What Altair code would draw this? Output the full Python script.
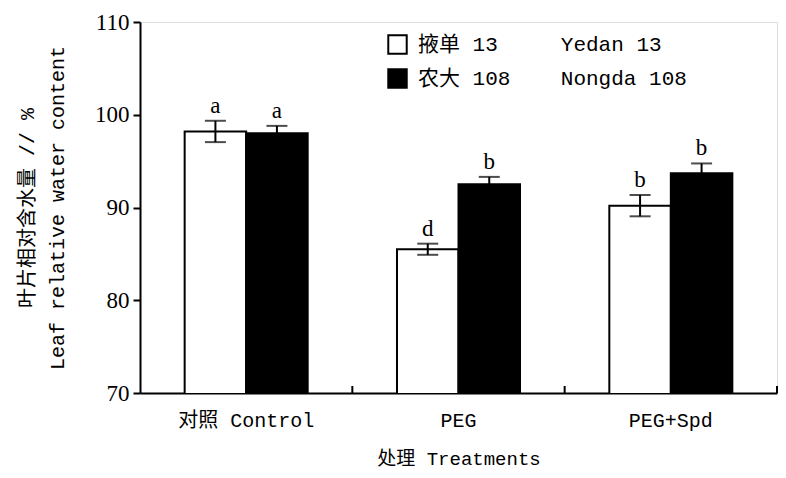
import altair as alt
import pandas as pd

treatments = ["对照 Control", "PEG", "PEG+Spd"]
varieties = ["掖单 13\u00a0\u00a0\u00a0\u00a0\u00a0Yedan 13", "农大 108\u00a0\u00a0\u00a0\u00a0Nongda 108"]
yedan_mean = [98.2, 85.5, 90.2]
yedan_err = [1.15, 0.6, 1.15]
yedan_letters = ["a", "d", "b"]
nongda_mean = [98.0, 92.5, 93.7]
nongda_err = [0.8, 0.8, 1.05]
nongda_letters = ["a", "b", "b"]
inner_ticks = ["PEG", "PEG+Spd"]
end_ticks = ["PEG+Spd"]

rows = []
for t, m, e, l in zip(treatments, yedan_mean, yedan_err, yedan_letters):
    rows.append({"treat": t, "var": varieties[0], "mean": m, "lo": m - e, "hi": m + e, "letter": l})
for t, m, e, l in zip(treatments, nongda_mean, nongda_err, nongda_letters):
    rows.append({"treat": t, "var": varieties[1], "mean": m, "lo": m - e, "hi": m + e, "letter": l})
df = pd.DataFrame(rows)

SERIF = "Liberation Serif, Noto Sans CJK SC"
MONO = "Liberation Mono, Noto Sans CJK SC"
W, H = 637, 371

x_enc = alt.X("treat:N", sort=treatments,
              scale=alt.Scale(paddingInner=0, paddingOuter=0),
              axis=alt.Axis(title="处理 Treatments", labelAngle=0, ticks=False,
                            labelFont=MONO, titleFont=MONO,
                            labelFontSize=20, titleFontSize=19, labelPadding=17,
                            titlePadding=19, titleFontWeight="normal",
                            domainColor="black", domainWidth=2,
                            labelColor="black", titleColor="black"))
xo_enc = alt.XOffset("var:N", sort=varieties, scale=alt.Scale(paddingOuter=0.726, paddingInner=0))
y_scale = alt.Scale(domain=[70, 110], nice=False, zero=False)
y_enc = alt.Y("mean:Q", scale=y_scale,
              axis=alt.Axis(title=["叶片相对含水量 // %", "Leaf relative water content"],
                            values=[70, 80, 90, 100, 110], grid=False, tickSize=7,
                            tickColor="black", tickWidth=2, domainColor="black",
                            domainWidth=2, labelFontSize=23, labelPadding=4,
                            labelFont=SERIF, titleFont=MONO,
                            titleFontSize=20, titleFontWeight="normal", titlePadding=27,
                            labelColor="black", titleColor="black", titleLineHeight=30))

base = alt.Chart(df)

bars = base.mark_bar(stroke="black", strokeWidth=2, clip=True).encode(
    x=x_enc, xOffset=xo_enc, y=y_enc,
    fill=alt.Fill("var:N", sort=varieties,
                  scale=alt.Scale(domain=varieties, range=["white", "black"]),
                  legend=alt.Legend(title=None, orient="none", legendX=247, legendY=12,
                                    symbolType="square", symbolSize=340,
                                    symbolStrokeColor="black", symbolStrokeWidth=2,
                                    labelFontSize=21, labelFont=MONO, labelColor="black",
                                    rowPadding=7, labelOffset=10, labelLimit=400)),
)

err = base.mark_rule(color="black", strokeWidth=2).encode(
    x=alt.X("treat:N", sort=treatments), xOffset=xo_enc,
    y=alt.Y("lo:Q", scale=y_scale), y2="hi:Q")
cap_hi = base.mark_tick(color="black", thickness=2, size=21).encode(
    x=alt.X("treat:N", sort=treatments), xOffset=xo_enc, y=alt.Y("hi:Q", scale=y_scale))
cap_lo = base.mark_tick(color="black", thickness=2, size=21).encode(
    x=alt.X("treat:N", sort=treatments), xOffset=xo_enc, y=alt.Y("lo:Q", scale=y_scale))
letters = base.mark_text(baseline="bottom", dy=-3, fontSize=23, font=SERIF, color="black").encode(
    x=alt.X("treat:N", sort=treatments), xOffset=xo_enc,
    y=alt.Y("hi:Q", scale=y_scale), text="letter:N")

tk1 = alt.Chart(pd.DataFrame({"treat": inner_ticks})).mark_rule(color="black", strokeWidth=2).encode(
    x=alt.X("treat:N", sort=treatments, bandPosition=0),
    y=alt.value(H), y2=alt.value(H - 7))
tk2 = alt.Chart(pd.DataFrame({"treat": end_ticks})).mark_rule(color="black", strokeWidth=2).encode(
    x=alt.X("treat:N", sort=treatments, bandPosition=1),
    y=alt.value(H), y2=alt.value(H - 7))

chart = alt.layer(bars, err, cap_hi, cap_lo, letters, tk1, tk2).properties(
    width=W, height=H
).configure_view(stroke=None).configure(padding={"left": 9, "top": 3, "right": 0, "bottom": 4})

chart.save("out.html", embed_options={"renderer": "svg", "actions": False})
